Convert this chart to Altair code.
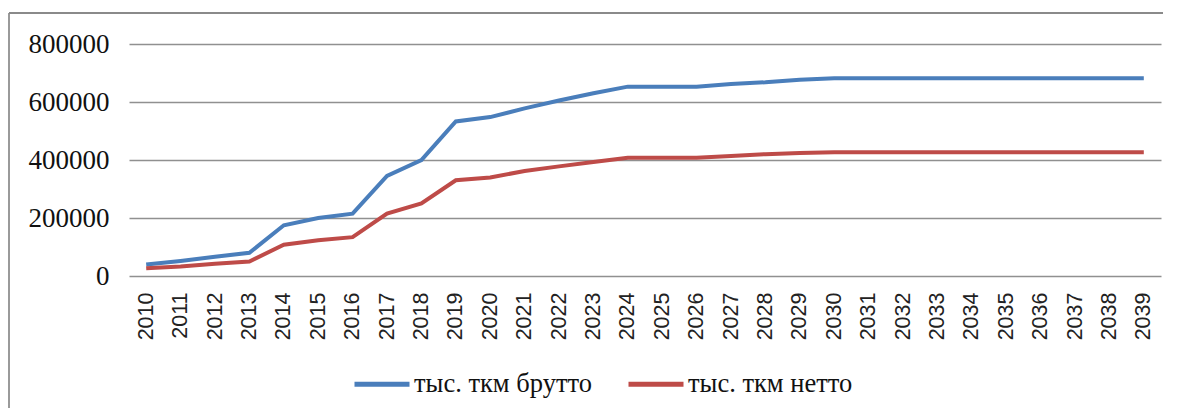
import altair as alt
import pandas as pd

years = [str(y) for y in range(2010, 2040)]
brutto = [40000, 52000, 66000, 80000, 175000, 200000, 215000, 345000, 400000, 533000,
          548000, 578000, 605000, 630000, 653000, 653000, 653000, 662000, 668000, 677000,
          682000, 682000, 682000, 682000, 682000, 682000, 682000, 682000, 682000, 682000]
netto = [27000, 33000, 42000, 50000, 108000, 123000, 134000, 215000, 250000, 330000,
         340000, 362000, 378000, 393000, 408000, 408000, 408000, 414000, 420000, 424000,
         427000, 427000, 427000, 427000, 427000, 427000, 427000, 427000, 427000, 427000]
series = ["тыс. ткм брутто", "тыс. ткм нетто"]
colors = ["#4A7EBB", "#BE4B48"]
y_ticks = [0, 200000, 400000, 600000, 800000]

SERIF = "'Liberation Serif', 'Times New Roman', 'DejaVu Serif', serif"
SANS = "'Liberation Sans', Arial, sans-serif"

rows = []
for i, yr in enumerate(years):
    rows.append({"year": yr, "value": brutto[i], "series": series[0]})
    rows.append({"year": yr, "value": netto[i], "series": series[1]})
df = pd.DataFrame(rows)

lines = alt.Chart(df).mark_line(strokeWidth=4).encode(
    x=alt.X("year:N", sort=years, title=None,
            axis=alt.Axis(labelAngle=-90, labelFont=SANS, labelFontSize=21.5,
                          labelColor="#222", ticks=False, domain=False, labelPadding=16,
                          grid=False)),
    y=alt.Y("value:Q", title=None,
            scale=alt.Scale(domain=[0, 800000], nice=False),
            axis=alt.Axis(values=y_ticks, format="d", labelFont=SERIF,
                          labelFontSize=27, labelColor="#111", ticks=False, domain=False,
                          labelPadding=20, gridColor="#909090", gridWidth=1.3)),
    color=alt.Color("series:N", sort=series,
                    scale=alt.Scale(domain=series, range=colors),
                    legend=alt.Legend(title=None, orient="none", legendX=223, legendY=310,
                                      direction="horizontal", columns=2,
                                      symbolType="stroke", symbolSize=3025,
                                      symbolStrokeWidth=5, labelFont=SERIF,
                                      labelFontSize=26.5, labelColor="#111", labelLimit=500,
                                      labelOffset=2, columnPadding=26)),
)

frame_left = alt.Chart(df).mark_rule(color="#9a9a9a", strokeWidth=2).encode(
    x=alt.value(-120), y=alt.value(-31), y2=alt.value(400))
frame_top = alt.Chart(df).mark_rule(color="#8a8a8a", strokeWidth=2).encode(
    x=alt.value(-120), x2=alt.value(1040), y=alt.value(-31))

chart = alt.layer(frame_left, frame_top, lines).properties(
    width=1032, height=232,
    autosize=alt.AutoSizeParams(type="none"),
    padding={"left": 121, "top": 36, "right": 2, "bottom": 132},
).configure_view(strokeWidth=0)

chart.save("out.html", embed_options={"renderer": "svg", "actions": False})
